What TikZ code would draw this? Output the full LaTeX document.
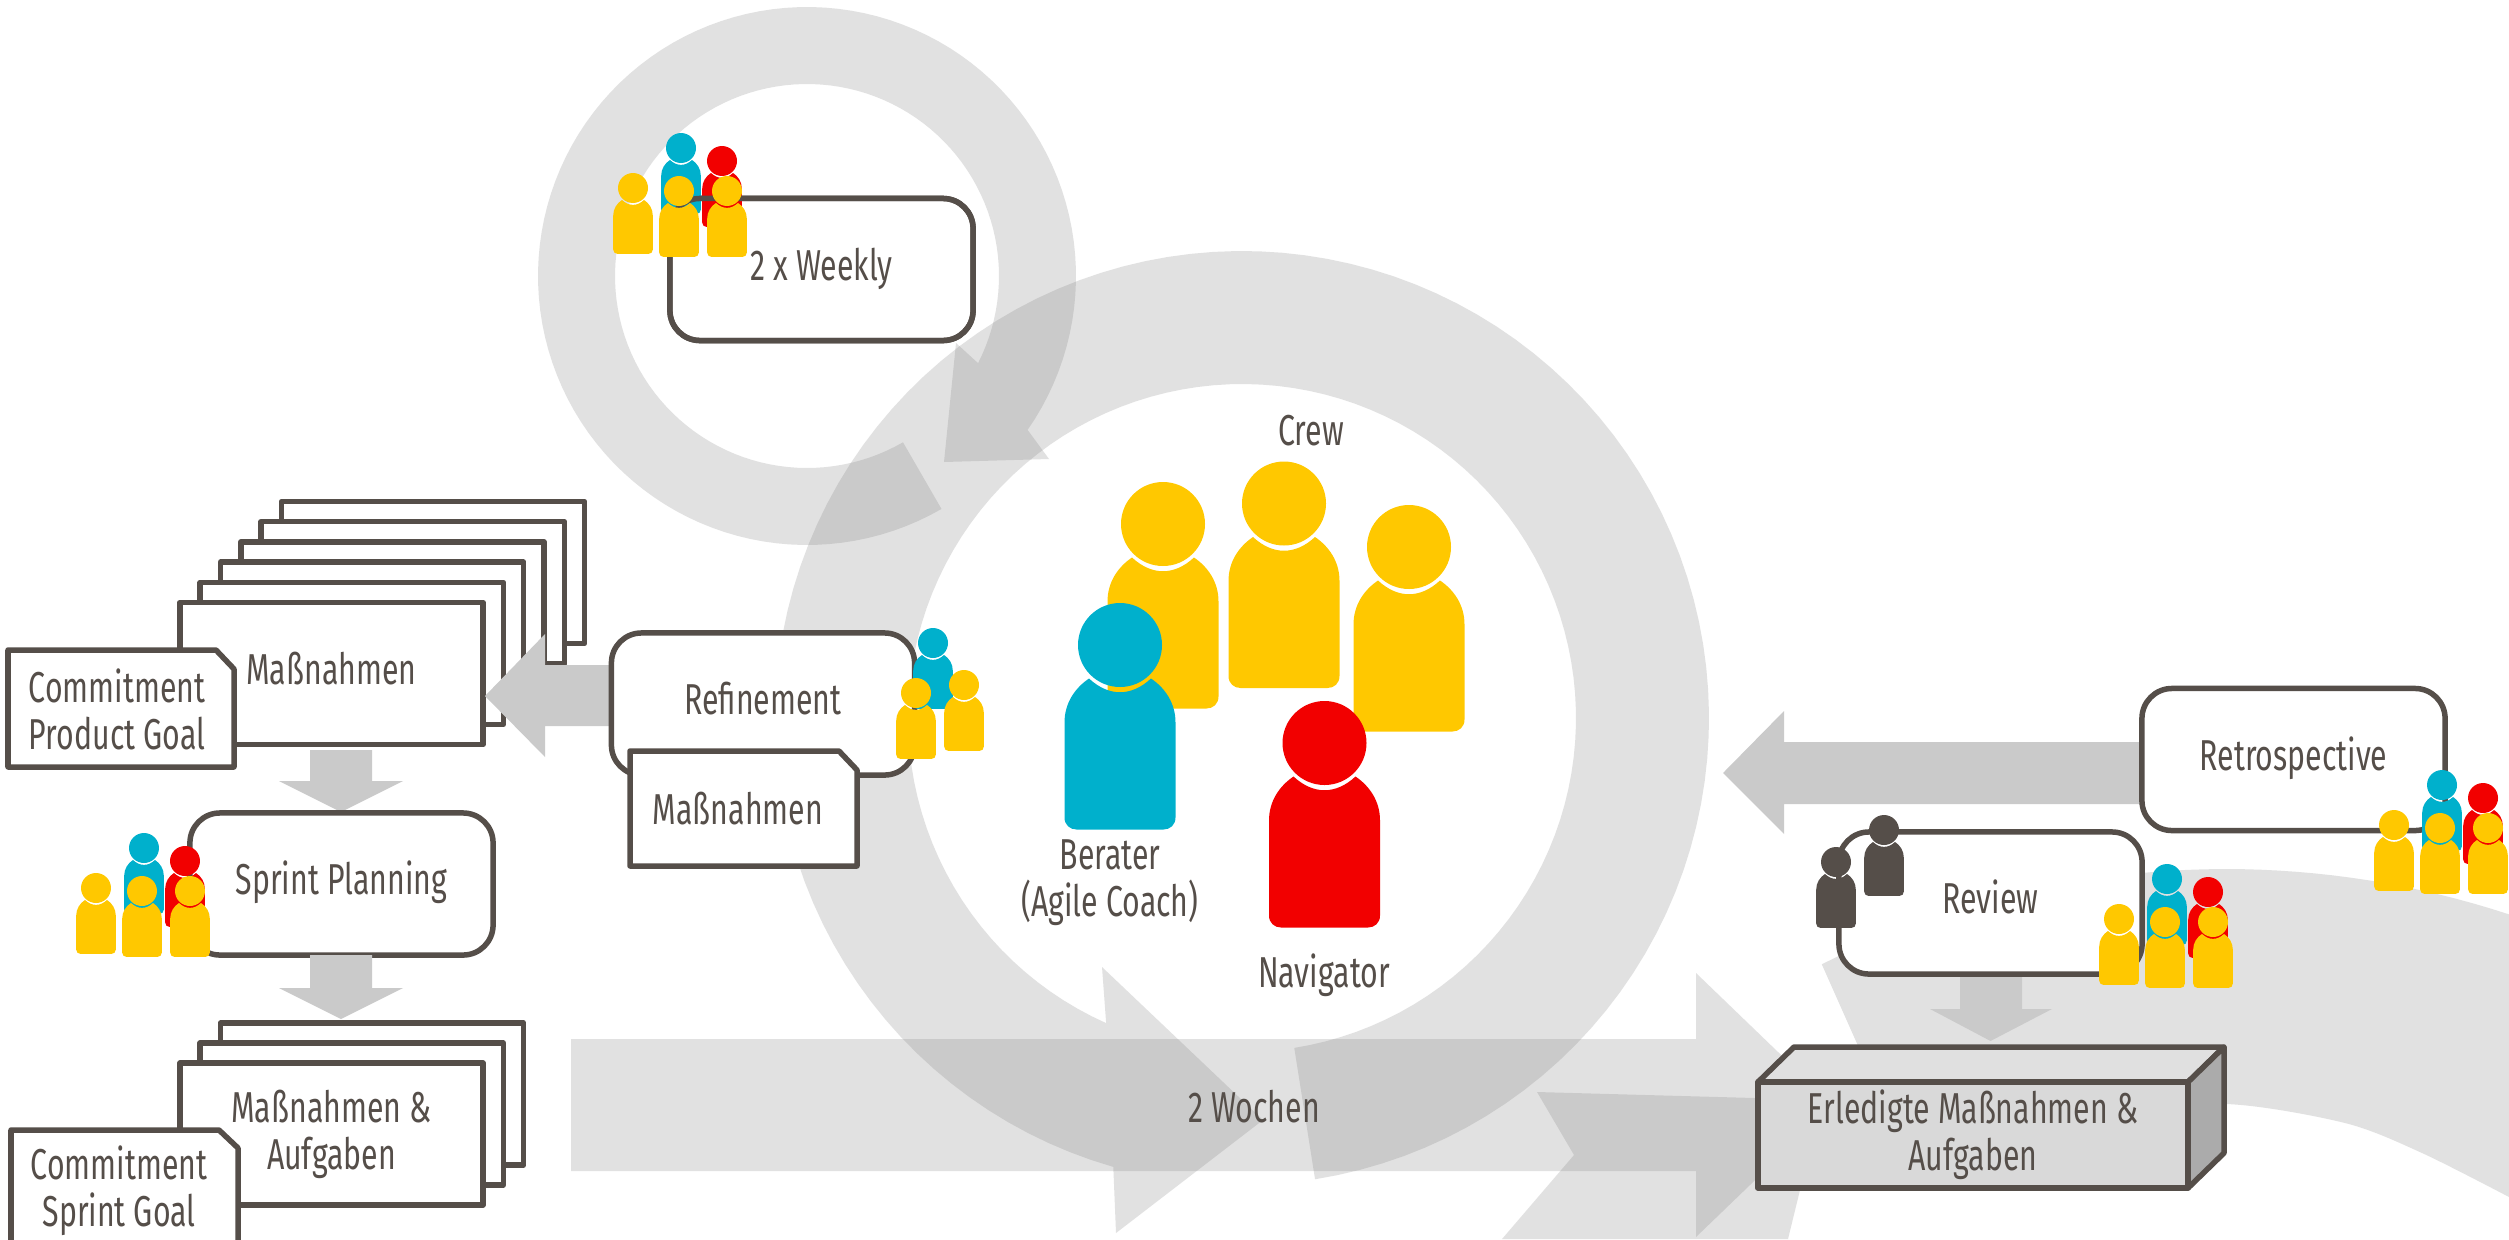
\documentclass[tikz,border=0pt]{standalone}
\usepackage{fontspec}
\setmainfont[FakeStretch=0.7]{Fira Sans}
\definecolor{linegray}{HTML}{554E49}
\definecolor{ringgray}{HTML}{7F7F7F}
\definecolor{blockgray}{HTML}{CACACA}
\definecolor{crewyellow}{HTML}{FFC800}
\definecolor{coachblue}{HTML}{00B0CC}
\definecolor{navred}{HTML}{F20000}

\begin{document}
\begin{tikzpicture}[x=0.01cm,y=-0.01cm,
	every node/.style={text=linegray,font=\fontsize{12.3}{13.4}\selectfont,align=center,inner sep=0pt},
	ringarrow/.style={fill=ringgray,fill opacity=0.235},
	blockarrow/.style={fill=blockgray},
	boxline/.style={draw=linegray,line width=0.055cm,line join=round},
	roundbox/.style={boxline,fill=white,outer sep=0pt,rounded corners=0.3cm,minimum width=3.03cm,minimum height=1.42cm,text height=0.27cm,text depth=0.06cm},
	sheet/.style={boxline,fill=white,outer sep=0pt,minimum width=3.03cm,minimum height=1.42cm},
	note/.style={boxline,fill=white},
	person/.pic={
		\fill[pic actions] (-55.5,172.5) -- (-55.5,77.5) .. controls (-55.5,58) and (-45,43) .. (-31,33.5)
			.. controls (-11.2,51.8) and (11.2,51.8) .. (31,33.5)
			.. controls (45,43) and (55.5,58) .. (55.5,77.5) -- (55.5,172.5)
			.. controls (55.5,180) and (50,184.5) .. (43.5,184.5) -- (-43.5,184.5)
			.. controls (-50,184.5) and (-55.5,180) .. (-55.5,172.5) -- cycle;
		\fill[pic actions] (0,0) circle (42);
	},
	teamback/.pic={
		\pic[fill=coachblue,scale=0.357] at (48,-40) {person};
		\pic[fill=navred,scale=0.357] at (89,-27) {person};
	},
	teamfront/.pic={
		\pic[fill=crewyellow,scale=0.357] at (0,0) {person};
		\pic[fill=crewyellow,scale=0.357] at (46,3) {person};
		\pic[fill=crewyellow,scale=0.357] at (94,3) {person};
	}]
	\useasboundingbox (0,0) rectangle (2509,1239);

	% rings
	\fill[ringarrow] plot[domain=60:394.9,samples=120] ({807+269*cos(\x)},{276+269*sin(\x)})
		-- (1049,459) -- (944,462) -- (956,343)
		-- plot[domain=387:60,samples=120] ({807+192*cos(\x)},{276+192*sin(\x)}) -- cycle;
	\fill[ringarrow] plot[domain=81:-254,samples=120] ({1242+467*cos(\x)},{718+467*sin(\x)})
		-- (1116,1233) -- (1263,1120) -- (1102,967)
		-- plot[domain=-246:81,samples=120] ({1242+334*cos(\x)},{718+334*sin(\x)}) -- cycle;
	\fill[ringarrow] plot[domain=243.5:288.2,samples=40] ({2226+906*cos(\x)},{1775+906*sin(\x)})
		-- plot[smooth] coordinates {(2509,1197) (2422,1153) (2345,1123) (2226,1104) (2100,1115)}
		-- (1891,1120) -- cycle;
	\fill[ringarrow] (1537,1092) -- (1900,1102) -- (1800,1190) -- (1788,1239) -- (1502,1239) -- (1574,1155) -- cycle;
	\fill[ringarrow] (571,1039) -- (1696,1039) -- (1696,973) -- (1833,1105) -- (1696,1237) -- (1696,1171) -- (571,1171) -- cycle;
	\node (weeks) at (1254,1107) {2 Wochen};

	% product stack
	\foreach \i in {5,4,3,2,1}
		\node[sheet] at ({331.5+20.3*\i},{673.5-20.2*\i}) {};
	\node[sheet,text height=0.27cm,text depth=0.06cm] (measures) at (331.5,673.5) {Maßnahmen};
	\draw[note] (8,650) -- (216,650) -- (234,669) -- (234,767) -- (8,767) -- cycle;
	\node (productgoal) at (117,709) {Commitment\\Product Goal};
	\fill[blockarrow] (612,665) -- (545,665) -- (545,634) -- (485,696) -- (545,757) -- (545,726) -- (612,726) -- cycle;

	% refinement
	\node[roundbox] (refinement) at (763,704) {Refinement};
	\draw[note] (630,751) -- (839,751) -- (857,770) -- (857,866) -- (630,866) -- cycle;
	\node (refmeasures) at (738,809) {Maßnahmen};
	\pic[fill=coachblue,scale=0.357] at (933,643) {person};
	\pic[fill=crewyellow,scale=0.357] at (916,693) {person};
	\pic[fill=crewyellow,scale=0.357] at (964,685) {person};

	% planning
	\fill[blockarrow] (310,750) -- (372,750) -- (372,781) -- (403,781) -- (341,812) -- (279,781) -- (310,781) -- cycle;
	\node[roundbox] (planning) at (341.5,884) {Sprint Planning};
	\pic at (96,888) {teamback};
	\pic at (96,888) {teamfront};
	\fill[blockarrow] (310,955) -- (372,955) -- (372,988) -- (403,988) -- (341,1019) -- (279,988) -- (310,988) -- cycle;

	% sprint stack
	\foreach \i in {2,1}
		\node[sheet] at ({331.5+20.3*\i},{1134-20*\i}) {};
	\node[sheet] (tasks) at (331.5,1134) {Maßnahmen \&\\Aufgaben};
	\draw[note] (11,1130) -- (219,1130) -- (238,1148) -- (238,1250) -- (11,1250) -- cycle;
	\node (sprintgoal) at (119,1191) {Commitment\\Sprint Goal};

	% weekly
	\node[roundbox] (weekly) at (821.5,269.5) {2 x Weekly};
	\pic at (633,188) {teamback};
	\draw[boxline,rounded corners=0.3cm] (weekly.north west) rectangle (weekly.south east);
	\pic at (633,188) {teamfront};

	% crew
	\pic[fill=crewyellow] at (1163,524) {person};
	\pic[fill=crewyellow] at (1284,503.5) {person};
	\pic[fill=crewyellow] at (1409,547) {person};
	\pic[fill=coachblue] at (1120,645) {person};
	\pic[fill=navred] at (1324.5,743) {person};
	\node (crew) at (1311,431) {Crew};
	\node (coach) at (1110,883) {Berater\\(Agile Coach)};
	\node (navigator) at (1324,975) {Navigator};

	% retrospective
	\fill[blockarrow] (2140,742) -- (1784,742) -- (1784,711) -- (1723,773) -- (1784,834) -- (1784,804) -- (2140,804) -- cycle;
	\node[roundbox] (retro) at (2293.5,759.5) {Retrospective};

	% review
	\fill[blockarrow] (1960,970) -- (2022,970) -- (2022,1009) -- (2052,1009) -- (1990.5,1041) -- (1930,1009) -- (1960,1009) -- cycle;
	\node[roundbox] (review) at (1990.5,903) {Review};
	\pic[fill=linegray,scale=0.357] at (1884,830) {person};
	\pic[fill=linegray,scale=0.357] at (1836,862) {person};
	\pic at (2119,919) {teamback};
	\pic at (2119,919) {teamfront};
	\pic at (2394,825) {teamback};
	\pic at (2394,825) {teamfront};

	% done box
	\draw[boxline,fill=black!12] (1758,1082) -- (1794,1047) -- (2224,1047) -- (2188,1082) -- cycle;
	\draw[boxline,fill=black!33] (2188,1082) -- (2224,1047) -- (2224,1153) -- (2188,1188) -- cycle;
	\node[boxline,outer sep=0pt,fill=black!15,minimum width=4.3cm,minimum height=1.06cm] (done) at (1973,1135) {Erledigte Maßnahmen \&\\Aufgaben};
\end{tikzpicture}
\end{document}
